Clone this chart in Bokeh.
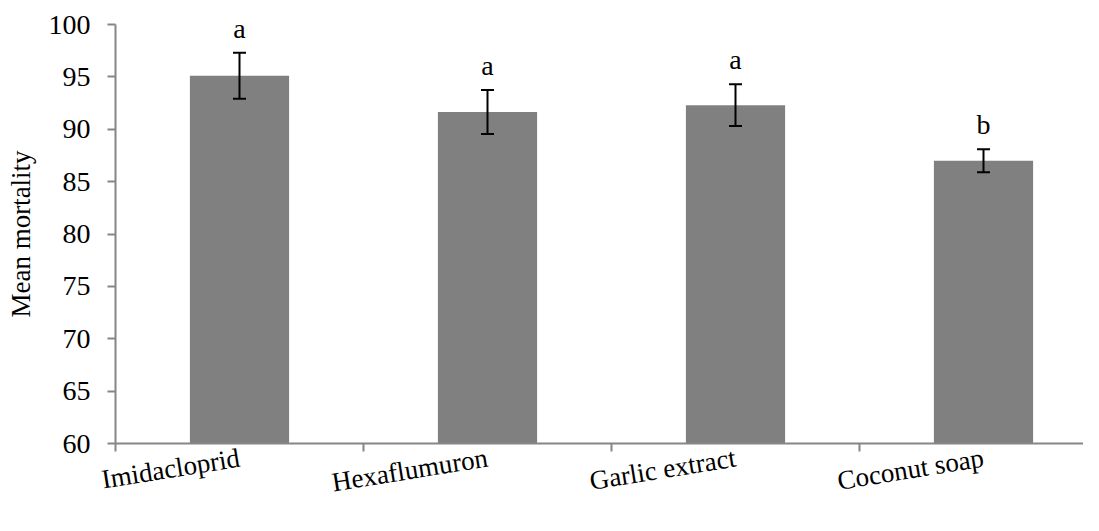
from bokeh.plotting import figure
from bokeh.models import Range1d, FixedTicker, ColumnDataSource, Whisker, LabelSet
from bokeh.embed import file_html
from bokeh.resources import INLINE

categories = ["Imidacloprid", "Hexaflumuron", "Garlic extract", "Coconut soap"]
means = [95.1, 91.65, 92.3, 87.0]
errors = [2.2, 2.1, 2.0, 1.1]
letters = ["a", "a", "a", "b"]
y_ticks = [60, 65, 70, 75, 80, 85, 90, 95, 100]

FONT = "Liberation Serif"
W, H = 1083, 515
left, top = 115, 24
bottom = H - 444
cat_px = 248.0
xs = [i + 0.5 for i in range(len(categories))]
y0 = y_ticks[0]

src = ColumnDataSource(dict(
    x=xs, top=means,
    upper=[m + e for m, e in zip(means, errors)],
    lower=[m - e for m, e in zip(means, errors)],
    letter=letters,
))

p = figure(width=W, height=H, output_backend="svg", toolbar_location=None,
           x_range=Range1d(0, (W - left) / cat_px), y_range=Range1d(60, 100),
           min_border_left=left, min_border_top=top, min_border_bottom=bottom,
           min_border_right=0)
p.outline_line_color = None
p.grid.visible = False
p.background_fill_color = "white"

p.vbar(x="x", top="top", bottom=y0, width=0.4, source=src,
       fill_color="#808080", line_color=None)

w = Whisker(base="x", upper="upper", lower="lower", source=src,
            line_color="black", line_width=2, level="overlay")
w.upper_head.size = 13
w.lower_head.size = 13
w.upper_head.line_width = 2
w.lower_head.line_width = 2
w.upper_head.line_color = "black"
w.lower_head.line_color = "black"
p.add_layout(w)

letter_labels = LabelSet(x="x", y="upper", text="letter", source=src,
                         text_align="center", text_baseline="alphabetic", y_offset=15,
                         text_font=FONT, text_font_size="28px", text_color="black",
                         level="overlay")
p.add_layout(letter_labels)

# y axis
ya = p.yaxis[0]
ya.ticker = FixedTicker(ticks=y_ticks)
ya.axis_label = "Mean mortality"
ya.axis_label_text_font = FONT
ya.axis_label_text_font_style = "normal"
ya.axis_label_text_font_size = "27px"
ya.axis_label_text_color = "black"
ya.axis_label_standoff = 10
ya.major_label_text_font = FONT
ya.major_label_text_font_size = "28px"
ya.major_label_text_color = "black"
ya.major_label_standoff = 17
ya.axis_line_color = "#868686"
ya.axis_line_width = 2
ya.major_tick_line_color = "#868686"
ya.major_tick_line_width = 2
ya.major_tick_out = 8
ya.major_tick_in = 0
ya.minor_tick_line_color = None

# x axis: labels at centres, ticks at boundaries
xa = p.xaxis[0]
xa.ticker = FixedTicker(ticks=xs, minor_ticks=list(range(len(categories) + 1)))
xa.major_label_overrides = {x: c for x, c in zip(xs, categories)}
xa.major_label_orientation = 0.16
xa.major_label_text_font = FONT
xa.major_label_text_font_size = "27px"
xa.major_label_text_color = "black"
xa.major_label_standoff = 6
xa.axis_line_color = "#868686"
xa.axis_line_width = 2
xa.major_tick_line_color = None
xa.major_tick_out = 0
xa.major_tick_in = 0
xa.minor_tick_line_color = "#868686"
xa.minor_tick_line_width = 2
xa.minor_tick_out = 8
xa.minor_tick_in = 0

open("out.html", "w").write(file_html(p, INLINE))
